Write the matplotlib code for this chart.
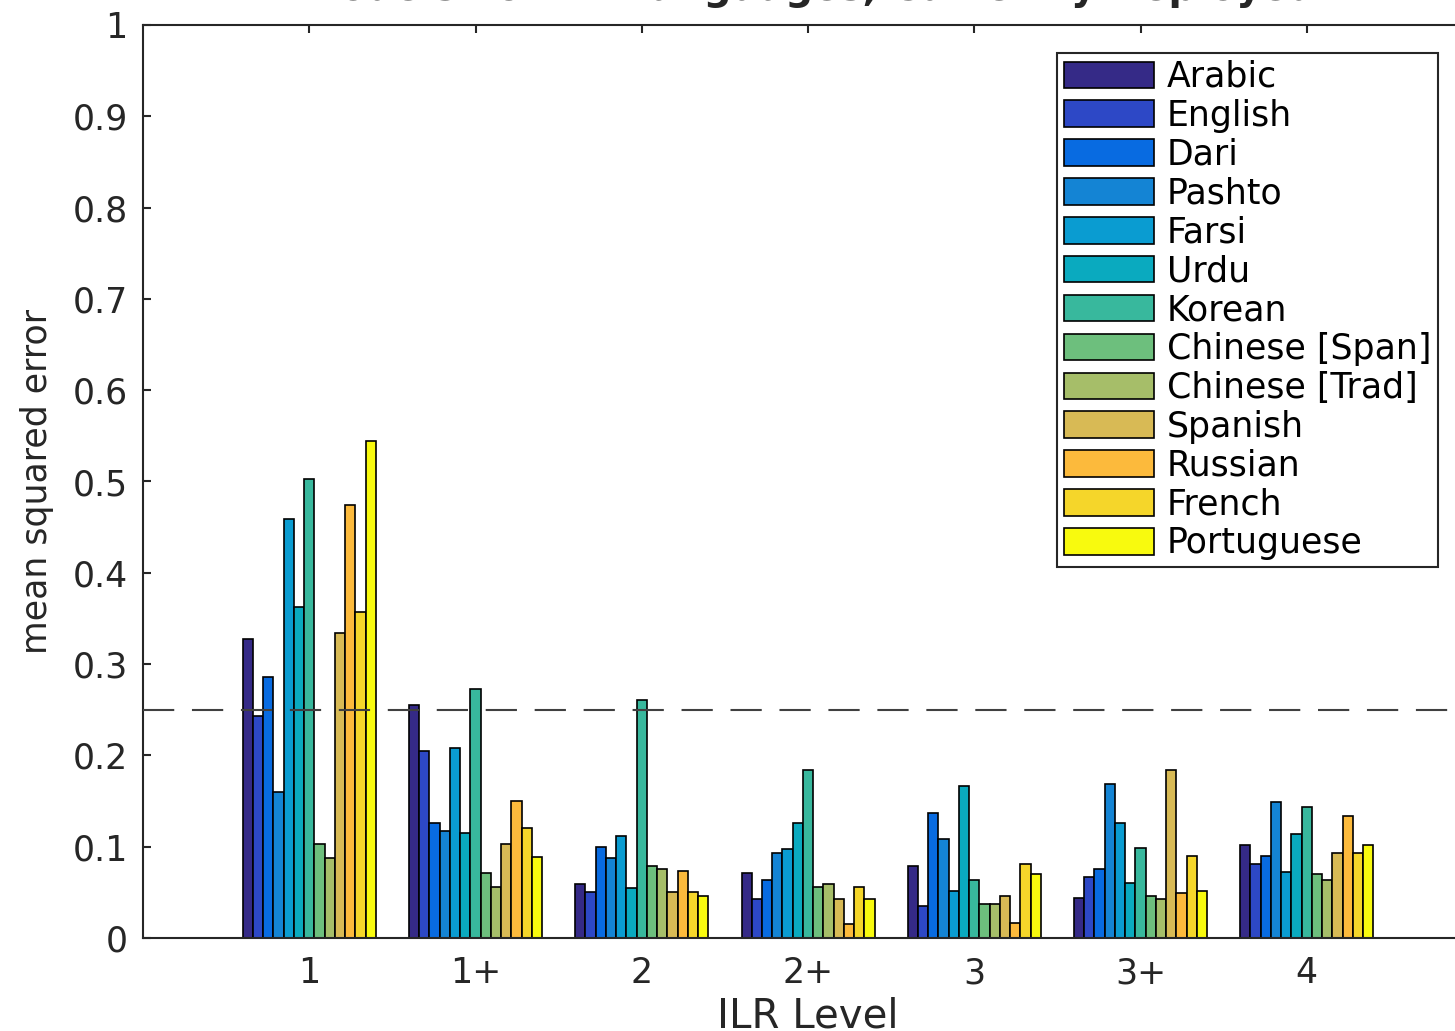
#!/usr/bin/env python3

import numpy as np
import matplotlib
matplotlib.use("Agg")
import matplotlib.pyplot as plt

"""
MSE per ILR level, one bar per language
"""

levels = ["1", "1+", "2", "2+", "3", "3+", "4"]
languages = ["Arabic", "English", "Dari", "Pashto", "Farsi", "Urdu", "Korean",
             "Chinese [Span]", "Chinese [Trad]", "Spanish", "Russian",
             "French", "Portuguese"]

arabic = [0.327, 0.255, 0.059, 0.071, 0.079, 0.044, 0.102]
english = [0.243, 0.205, 0.050, 0.043, 0.035, 0.067, 0.081]
dari = [0.286, 0.126, 0.100, 0.064, 0.137, 0.076, 0.090]
pashto = [0.160, 0.117, 0.088, 0.093, 0.108, 0.169, 0.149]
farsi = [0.459, 0.208, 0.112, 0.097, 0.052, 0.126, 0.072]
urdu = [0.362, 0.115, 0.055, 0.126, 0.167, 0.060, 0.114]
korean = [0.503, 0.273, 0.261, 0.184, 0.063, 0.099, 0.143]
chinese_span = [0.103, 0.071, 0.079, 0.056, 0.037, 0.046, 0.070]
chinese_trad = [0.088, 0.056, 0.076, 0.059, 0.037, 0.043, 0.063]
spanish = [0.334, 0.103, 0.050, 0.043, 0.046, 0.184, 0.093]
russian = [0.474, 0.150, 0.073, 0.015, 0.016, 0.049, 0.134]
french = [0.357, 0.120, 0.050, 0.056, 0.081, 0.090, 0.093]
portuguese = [0.544, 0.089, 0.046, 0.043, 0.070, 0.052, 0.102]

threshold = 0.25

colors = ["#352A87", "#2D48C6", "#086BE1", "#1484D4", "#0A9CD1", "#0AAABF",
          "#38B89D", "#6DBF7D", "#A6BE69", "#D8BA55", "#FCBA3C", "#F5D62A",
          "#F8FA0E"]


def main():
    series = [arabic, english, dari, pashto, farsi, urdu, korean,
              chinese_span, chinese_trad, spanish, russian, french, portuguese]

    fig = plt.figure(figsize=(14.55, 10.31), dpi=100)
    ax = fig.add_axes([143 / 1455, 93 / 1031, 1330 / 1455, 913 / 1031])

    x = np.arange(1, len(levels) + 1)
    n = len(series)
    w = 0.8 / n
    for i, vals in enumerate(series):
        ax.bar(x + (i - (n - 1) / 2) * w, vals, width=w, color=colors[i],
               edgecolor="black", linewidth=1.2, label=languages[i], zorder=2)

    ax.axhline(threshold, color="#404040", lw=1.5, ls=(0, (15, 8.5)), zorder=3)

    ax.set_xlim(0, 8)
    ax.set_ylim(0, 1)
    ax.set_xticks(x)
    ax.set_xticklabels(levels)
    yt = np.round(np.arange(0, 1.01, 0.1), 1)
    ax.set_yticks(yt)
    ax.set_yticklabels(["0"] + ["%.1f" % v for v in yt[1:-1]] + ["1"])

    for s in ax.spines.values():
        s.set_linewidth(1.5)
        s.set_color("#262626")
    ax.tick_params(direction="in", top=True, right=True, length=6, width=1.5,
                   color="#262626", labelsize=25, labelcolor="#262626")
    ax.tick_params(axis="x", pad=13)
    ax.tick_params(axis="y", pad=11)

    ax.set_xlabel("ILR Level", fontsize=29, color="#262626", va="top")
    ax.xaxis.set_label_coords(0.5, -0.064)
    ax.set_ylabel("mean squared error", fontsize=25, color="#262626")
    ax.yaxis.set_label_coords(-0.067, 0.5)
    ax.set_title("Models For All Languages, Currently Deployed", fontsize=28,
                 fontweight="bold", pad=18, color="#262626")

    # legend box sits at (1042..1438, 53..562) px in the original
    leg = ax.legend(loc="upper right", bbox_to_anchor=(1295 / 1330, 0.9693),
                    borderaxespad=0, fontsize=25, fancybox=False,
                    framealpha=1, edgecolor="#262626", handlelength=2.6,
                    handleheight=0.8, handletextpad=0.35, labelspacing=0.14,
                    borderpad=0.2)
    leg.get_frame().set_linewidth(1.5)

    plt.savefig("out.png", dpi=100)


if __name__ == "__main__":
    main()
